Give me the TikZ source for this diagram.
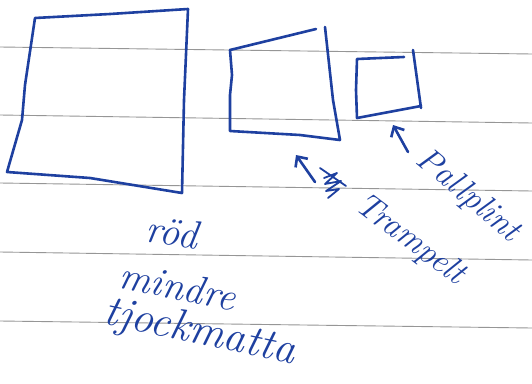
\documentclass[tikz,border=0pt]{standalone}
\usepackage{fontspec}
\usetikzlibrary{arrows.meta}
\definecolor{ink}{RGB}{30,64,160}
\definecolor{rulegray}{RGB}{150,150,150}
\begin{document}
\begin{tikzpicture}[
		x=1pt, y=-1pt,
		pen/.style={draw=ink, line width=2.6pt, line join=round, line cap=round},
		ruling/.style={draw=rulegray, line width=0.9pt},
		hand/.style={text=ink, font=\fontsize{34}{40}\selectfont\itshape, inner sep=0pt},
		bighand/.style={hand, font=\fontsize{40}{46}\selectfont\itshape},
		pointer/.style={pen, -{Straight Barb[length=8pt, width=15pt, line width=2.6pt]}},
		]
		\useasboundingbox[fill=white] (0,0) rectangle (532,383);
		% paper lines
		\foreach \l/\r in {47/54, 115/123, 183/191, 252/260, 321/328}
		\draw[ruling] (0,\l) -- (532,\r);
		% mats and boxes
		\draw[pen] (35,18) -- (110,14) -- (188,9) -- (184,100) -- (182,193) -- (90,178) -- (7,172) -- (22,120) -- (25,85) -- cycle;
		\draw[pen] (230,50) -- (316,29);
		\draw[pen] (325,27) -- (333,100) -- (340,140) -- (300,135) -- (230,131) -- (230,95) -- (232,75) -- (230,50);
		\draw[pen] (404,57) -- (357,59) -- (356,90) -- (357,118) -- (421,106);
		\draw[pen] (413,50) -- (421,108);
		% labels
		\node[bighand, rotate=-8] (rod) at (172,232) {röd};
		\node[bighand, rotate=-12] (mindre) at (178,286) {mindre};
		\node[bighand, rotate=-12, scale=1.1] (tjock) at (200,333) {tjockmatta};
		\node[hand, rotate=-40] (pallplint) at (468,196) {Pallplint};
		\node[hand, rotate=-37] (trampelt) at (410,240) {Trampelt};
		% arrows
		\coordinate (pall tail) at (408,152);
		\coordinate (pall tip) at (393,125);
		\coordinate (tramp tail) at (315,182);
		\coordinate (tramp tip) at (296,155);
		\draw[pointer] (pall tail) -- (pall tip);
		\draw[pointer] (tramp tail) -- (tramp tip);
		% crossed out bit
		\draw[pen, line width=1.8pt] (320,168) -- (346,186);
		\draw[pen, line width=1.8pt] (324,178) -- (337,173) -- (325,184) -- (341,181) -- (326,191) -- (339,189) -- (328,198);
	\end{tikzpicture}
\end{document}
